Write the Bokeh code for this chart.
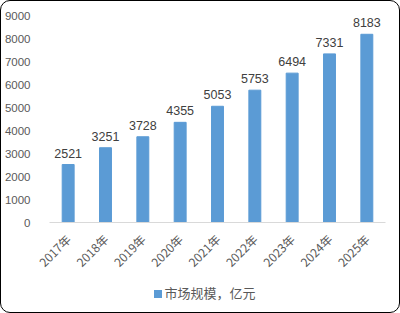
import math
from bokeh.plotting import figure
from bokeh.models import ColumnDataSource, Range1d, FixedTicker, Div
from bokeh.layouts import column
from bokeh.core.properties import value
from bokeh.embed import file_html
from bokeh.resources import INLINE

years = ["2017年", "2018年", "2019年", "2020年", "2021年", "2022年", "2023年", "2024年", "2025年"]
market = [2521, 3251, 3728, 4355, 5053, 5753, 6494, 7331, 8183]
labels = [str(v) for v in market]
y_ticks = [0, 1000, 2000, 3000, 4000, 5000, 6000, 7000, 8000, 9000]
series_name = "市场规模，亿元"
bar_color = "#5B9BD5"

src = ColumnDataSource(dict(x=years, y=market, lab=labels))

p = figure(width=398, height=280, x_range=years, y_range=Range1d(0, 9000),
           output_backend="svg", toolbar_location=None,
           min_border_left=47, min_border_right=14, min_border_top=14, min_border_bottom=59)
p.outline_line_color = None
p.background_fill_alpha = 0
p.border_fill_alpha = 0
p.xgrid.grid_line_color = None
p.ygrid.grid_line_color = None

bars = p.vbar(x="x", top="y", width=0.32, source=src, color=bar_color)
p.text(x="x", y="y", text="lab", source=src, text_align="center", text_baseline="bottom",
       y_offset=-7, text_font_size="12.5px", text_color="#404040", text_font=value("Liberation Sans"))

p.yaxis.ticker = FixedTicker(ticks=y_ticks)
p.yaxis.axis_line_color = None
p.yaxis.major_tick_line_color = None
p.yaxis.minor_tick_line_color = None
p.yaxis.major_label_standoff = 13
p.yaxis.major_label_text_font_size = "11.5px"
p.yaxis.major_label_text_color = "#595959"
p.yaxis.major_label_text_font = "Liberation Sans"

p.xaxis.axis_line_color = "#d9d9d9"
p.xaxis.major_tick_line_color = None
p.xaxis.minor_tick_line_color = None
p.xaxis.major_label_orientation = math.pi / 4
p.xaxis.major_label_standoff = 8
p.xaxis.major_label_text_font_size = "12px"
p.xaxis.major_label_text_color = "#595959"
p.xaxis.major_label_text_font = "Noto Sans CJK SC"

legend_html = (
    '<div style="width:398px;text-align:center;font-family:\'Noto Sans CJK SC\';font-size:13px;'
    'color:#595959;line-height:14px;">'
    f'<span style="display:inline-block;width:8px;height:8px;background:{bar_color};'
    'margin-right:2px;vertical-align:middle;"></span>' + series_name + '</div>'
)
leg = Div(text=legend_html, width=398, height=31)

layout = column(p, leg, spacing=0, width=400, height=313, sizing_mode="fixed",
                styles={"border": "1px solid black", "border-radius": "10px",
                        "background": "white", "box-sizing": "border-box",
                        "overflow": "hidden"})

open("out.html", "w").write(file_html(layout, INLINE))
